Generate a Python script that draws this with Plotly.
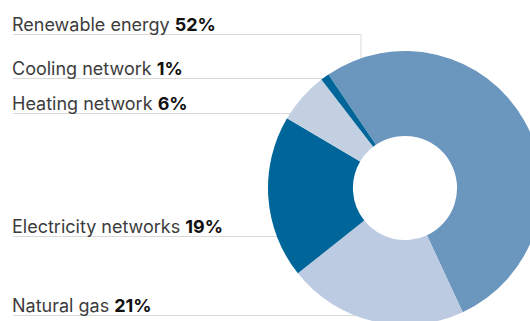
import plotly.graph_objects as go

# Energy mix shares (%)
labels = ["Renewable energy", "Natural gas", "Electricity networks", "Heating network", "Cooling network"]
values = [52, 21, 19, 6, 1]
colors = ["#6b97bf", "#bccbe1", "#00669a", "#c3d0e2", "#00669a"]

# Left-hand captions, top to bottom
caption_order = ["Renewable energy", "Cooling network", "Heating network", "Electricity networks", "Natural gas"]

# Canvas is a little larger than the visible page so the donut bleeds off the right/bottom edges
W, H = 560, 350
cx, cy, R = 405, 188, 137


def px(x):
    return x / W


def py(y):
    return 1 - y / H


fig = go.Figure(
    go.Pie(
        labels=labels,
        values=values,
        marker=dict(colors=colors, line=dict(width=0)),
        hole=0.38,
        sort=False,
        direction="clockwise",
        rotation=-34,
        textinfo="none",
        hoverinfo="label+percent",
        showlegend=False,
        domain=dict(x=[px(cx - R), px(cx + R)], y=[py(cy + R), py(cy - R)]),
    )
)

# caption line heights (page pixels) and where each leader enters the ring
line_y = [34.5, 78.5, 113.5, 236.5, 315.5]
line_end = [361, 345, 320, 320, 380]

line_col = "#d9d9d9"
shapes = []
annotations = []
for i, name in enumerate(caption_order):
    v = values[labels.index(name)]
    y = line_y[i]
    if i == 0:
        path = f"M {px(13)},{py(y)} L {px(line_end[i])},{py(y)} L {px(line_end[i])},{py(95)}"
    else:
        path = f"M {px(13)},{py(y)} L {px(line_end[i])},{py(y)}"
    shapes.append(dict(type="path", path=path, xref="paper", yref="paper",
                       line=dict(color=line_col, width=1), layer="below"))
    annotations.append(dict(
        x=px(11), y=py(y + 1.5), xref="paper", yref="paper",
        xanchor="left", yanchor="bottom", showarrow=False, borderpad=0,
        text=f"<span style='color:#3c3c3c'>{name}</span> <b>{v}%</b>",
        font=dict(family="Inter", size=18, color="#111111"),
    ))

fig.update_layout(
    width=W, height=H,
    margin=dict(l=0, r=0, t=0, b=0),
    paper_bgcolor="white", plot_bgcolor="white",
    shapes=shapes, annotations=annotations,
)

fig.write_html(
    "out.html",
    post_script="document.documentElement.style.overflow='hidden';document.body.style.overflow='hidden';document.body.style.margin='0';",
)
